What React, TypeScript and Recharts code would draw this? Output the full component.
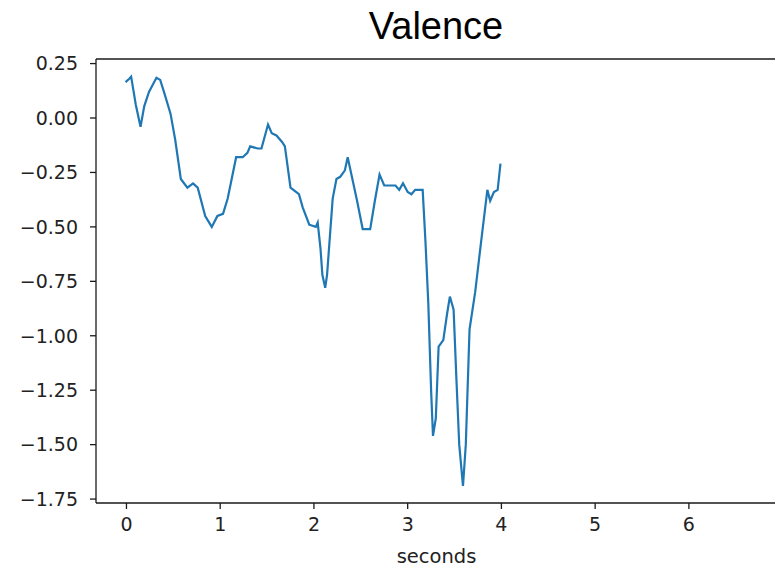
import { LineChart, Line, XAxis, YAxis, ReferenceLine } from 'recharts';

const seconds = [
  -0.01, 0.03, 0.05, 0.1, 0.15, 0.19, 0.24, 0.32, 0.36, 0.4, 0.47, 0.52, 0.58, 0.65, 0.71, 0.76,
  0.84, 0.91, 0.97, 1.03, 1.08, 1.17, 1.24, 1.29, 1.32, 1.4, 1.44, 1.51, 1.55, 1.6, 1.66, 1.69,
  1.75, 1.84, 1.88, 1.95, 2.02, 2.04, 2.07, 2.09, 2.12, 2.14, 2.2, 2.24, 2.28, 2.33, 2.36, 2.41,
  2.46, 2.52, 2.6, 2.65, 2.7, 2.75, 2.87, 2.91, 2.95, 3.0, 3.04, 3.08, 3.16, 3.19, 3.22, 3.25,
  3.27, 3.3, 3.33, 3.38, 3.42, 3.45, 3.49, 3.52, 3.55, 3.59, 3.62, 3.66, 3.72, 3.78, 3.85, 3.88,
  3.92, 3.96, 3.99,
];

const valence = [
  0.165, 0.18, 0.19, 0.06, -0.04, 0.055, 0.12, 0.185, 0.175, 0.12, 0.02, -0.1, -0.28, -0.32, -0.3, -0.32,
  -0.45, -0.5, -0.45, -0.44, -0.37, -0.18, -0.18, -0.16, -0.13, -0.14, -0.14, -0.03, -0.07, -0.08, -0.11, -0.13,
  -0.32, -0.35, -0.41, -0.49, -0.5, -0.48, -0.6, -0.72, -0.78, -0.72, -0.37, -0.28, -0.27, -0.24, -0.18, -0.28,
  -0.38, -0.51, -0.51, -0.38, -0.26, -0.31, -0.31, -0.33, -0.3, -0.34, -0.35, -0.33, -0.33, -0.57, -0.85, -1.25,
  -1.46, -1.38, -1.05, -1.02, -0.9, -0.82, -0.88, -1.2, -1.5, -1.69, -1.5, -0.97, -0.8, -0.58, -0.33, -0.38,
  -0.34, -0.33, -0.21,
];

const xTicks = [0, 1, 2, 3, 4, 5, 6];
const yTicks = [0.25, 0, -0.25, -0.5, -0.75, -1.0, -1.25, -1.5, -1.75];
const yTop = 0.271;

const data = seconds.map((t, i) => ({ t, v: valence[i] }));

const tickFont = { fontFamily: 'DejaVu Sans', fontSize: 19, fill: '#222' };
const fmtY = (v: number) => v.toFixed(2).replace('-', '\u2212');

export default function App() {
  return (
    <div style={{ position: 'absolute', left: 0, top: 0, width: 775, height: 568, overflow: 'hidden', background: '#fff' }}>
      <LineChart width={777} height={568} data={data} margin={{ top: 59, right: 0, bottom: 0, left: 0 }}>
        <text x={436} y={39} textAnchor="middle" fontFamily="Liberation Sans" fontSize={38} fill="#000">
          Valence
        </text>
        <XAxis
          dataKey="t"
          type="number"
          domain={[-0.325, 6.94]}
          ticks={xTicks}
          allowDataOverflow
          stroke="#1a1a1a"
          strokeWidth={1.3}
          tickSize={6}
          tickMargin={9}
          tick={tickFont}
          height={65}
          label={{ value: 'seconds', position: 'insideBottom', offset: 5, style: { fontFamily: 'DejaVu Sans', fontSize: 19.5, fill: '#222' } }}
        />
        <YAxis
          type="number"
          domain={[-1.768, yTop]}
          ticks={yTicks}
          allowDataOverflow
          stroke="#1a1a1a"
          strokeWidth={1.3}
          tickSize={6}
          tickMargin={12}
          tick={tickFont}
          tickFormatter={fmtY}
          width={96}
        />
        <ReferenceLine y={yTop} stroke="#1a1a1a" strokeWidth={1.3} />
        <Line type="linear" dataKey="v" stroke="#1f77b4" strokeWidth={2.2} dot={false} isAnimationActive={false} />
      </LineChart>
    </div>
  );
}
